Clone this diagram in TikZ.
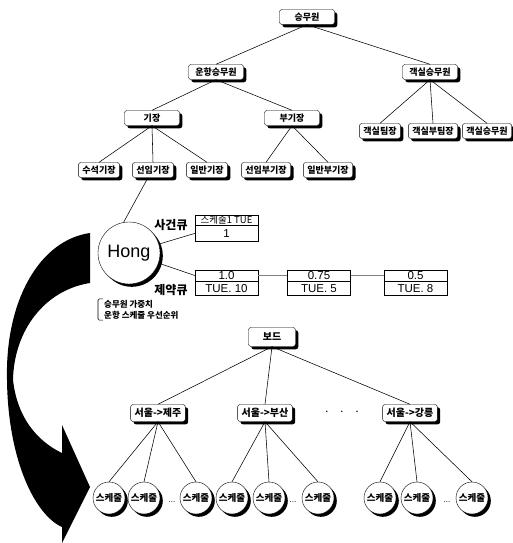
\documentclass[tikz,border=0pt]{standalone}
\usepackage{fontspec}
\setmainfont{Liberation Sans}
\newfontfamily\kr{Noto Sans CJK KR}
\usetikzlibrary{shadows,positioning}
\tikzstyle{boxshadow}=[drop shadow={shadow xshift=2.8pt,shadow yshift=-2.8pt,fill=black,opacity=1}]
\tikzstyle{crew}=[draw,fill=white,rounded corners=2.5pt,boxshadow,inner xsep=4pt,inner ysep=0pt,minimum height=15pt,font=\kr\bfseries\fontsize{9}{10}\selectfont]
\tikzstyle{crewtop}=[crew,minimum width=55pt]
\tikzstyle{route}=[crew,minimum height=17pt,font=\kr\bfseries\fontsize{10}{12}\selectfont]
\tikzstyle{sched}=[draw,circle,fill=white,boxshadow,inner sep=0pt,minimum size=32pt,font=\kr\bfseries\fontsize{9.5}{10}\selectfont]
\tikzstyle{person}=[draw,circle,fill=white,boxshadow,minimum size=62pt,font=\fontsize{18}{20}\selectfont]
\tikzstyle{cell}=[draw,fill=white,minimum width=63pt,inner sep=0pt]
\tikzstyle{cellhead}=[cell,minimum height=10pt,font=\kr\fontsize{9.5}{10}\selectfont]
\tikzstyle{cellbody}=[cell,minimum height=16pt,font=\fontsize{11.5}{13}\selectfont]
\tikzstyle{qlabel}=[font=\kr\bfseries\fontsize{12}{14}\selectfont]
\tikzstyle{note}=[align=left,inner xsep=4pt,inner ysep=1pt,font=\kr\bfseries\fontsize{8.5}{11}\selectfont]
\tikzstyle{tie}=[black,line width=0.55pt]
\tikzstyle{link}=[gray,line width=0.4pt]

\begin{document}
\begin{tikzpicture}[x=1pt,y=-1pt]
\useasboundingbox (0,0) rectangle (512,543);
% big curved arrow
\fill[black] (90,233) .. controls (40,240) and (5,300) .. (7,380)
  .. controls (8,460) and (35,515) .. (62,527) -- (62,543) -- (90,487)
  -- (62,425) -- (62,453) .. controls (45,445) and (18,425) .. (13,380)
  .. controls (14,330) and (45,290) .. (90,283) -- cycle;

\node[crewtop] (crew) at (307,17) {승무원};
\node[crewtop] (flight) at (216,72) {운항승무원};
\node[crewtop] (cabin) at (430,72) {객실승무원};
\node[crewtop] (capt) at (152,118) {기장};
\node[crewtop] (fo) at (292,118) {부기장};
\foreach \place/\name/\txt in {{(380,131)/cab1/객실팀장}, {(433,131)/cab2/객실부팀장},
  {(487,131)/cab3/객실승무원}, {(99,170)/capt1/수석기장}, {(153,170)/capt2/선임기장},
  {(207,170)/capt3/일반기장}, {(266,170)/fo1/선임부기장}, {(328,170)/fo2/일반부기장}}
    \node[crew] (\name) at \place {\txt};

\node[person] (hong) at (129,253) {Hong};
\draw[tie] ([xshift=-5pt]capt2.south) -- (hong.100);

% event queue
\node[qlabel] (evlabel) at (171,225) {사건큐};
\node[cellhead] (evh) at (226.5,220) {스케줄1 TUE};
\node[cellbody,below=0pt of evh] (evb) {1};
\draw[tie] (hong) -- (evb.west);

% constraint queue
\node[qlabel] (cqlabel) at (171,290) {제약큐};
\foreach \x/\name/\w/\day in {226.5/c1/1.0/{TUE. 10}, 319/c2/0.75/{TUE. 5}, 415.5/c3/0.5/{TUE. 8}}{
  \node[cellhead,minimum height=11pt,font=\fontsize{11.5}{13}\selectfont] (\name h) at (\x,275.5) {\w};
  \node[cellbody,minimum height=14pt,below=0pt of \name h] (\name b) {\day};
}
\draw[tie] (hong) -- (c1h.west);
\foreach \source/\dest in {c1h/c2h, c2h/c3h}
  \draw[link] (\source) -- (\dest);

\node[note,anchor=west] (note) at (100,309.5) {승무원 가중치\\운항 스케줄 우선순위};
\draw[tie,rounded corners=1.5pt] ([xshift=3pt]note.north west) -| ([xshift=-2pt]note.west)
  |- ([xshift=3pt]note.south west);

% board tree
\node[route,minimum width=47pt,minimum height=19pt] (board) at (272,337) {보드};
\foreach \place/\name/\txt in {{(158,413)/r1/서울->제주}, {(265,413)/r2/서울->부산}, {(410,413)/r3/서울->강릉}}
    \node[route] (\name) at \place {\txt};
\node[font=\fontsize{14}{14}\selectfont] (rdots) at (342,412) {$\cdot\;\;\cdot\;\;\cdot$};

\foreach \x/\name in {109/s1, 144/s2, 196/s3, 232/s4, 269/s5, 318/s6, 380/s7, 417/s8, 472/s9}
    \node[sched] (\name) at (\x,498) {스케줄};
\foreach \x/\name in {172/sd1, 293/sd2, 447/sd3}
    \node[font=\fontsize{8}{8}\selectfont] (\name) at (\x,502) {...};

\foreach \source/\dest in {crew/flight, crew/cabin, flight/capt, flight/fo,
  cabin/cab1, cabin/cab2, cabin/cab3, capt/capt1, capt/capt2, capt/capt3, fo/fo1, fo/fo2,
  board/r1, board/r2, board/r3, r1/s1, r1/s2, r1/s3, r2/s4, r2/s5, r2/s6, r3/s7, r3/s8, r3/s9}
  \draw[tie] (\source.south) -- (\dest.north);

\end{tikzpicture}
\end{document}
